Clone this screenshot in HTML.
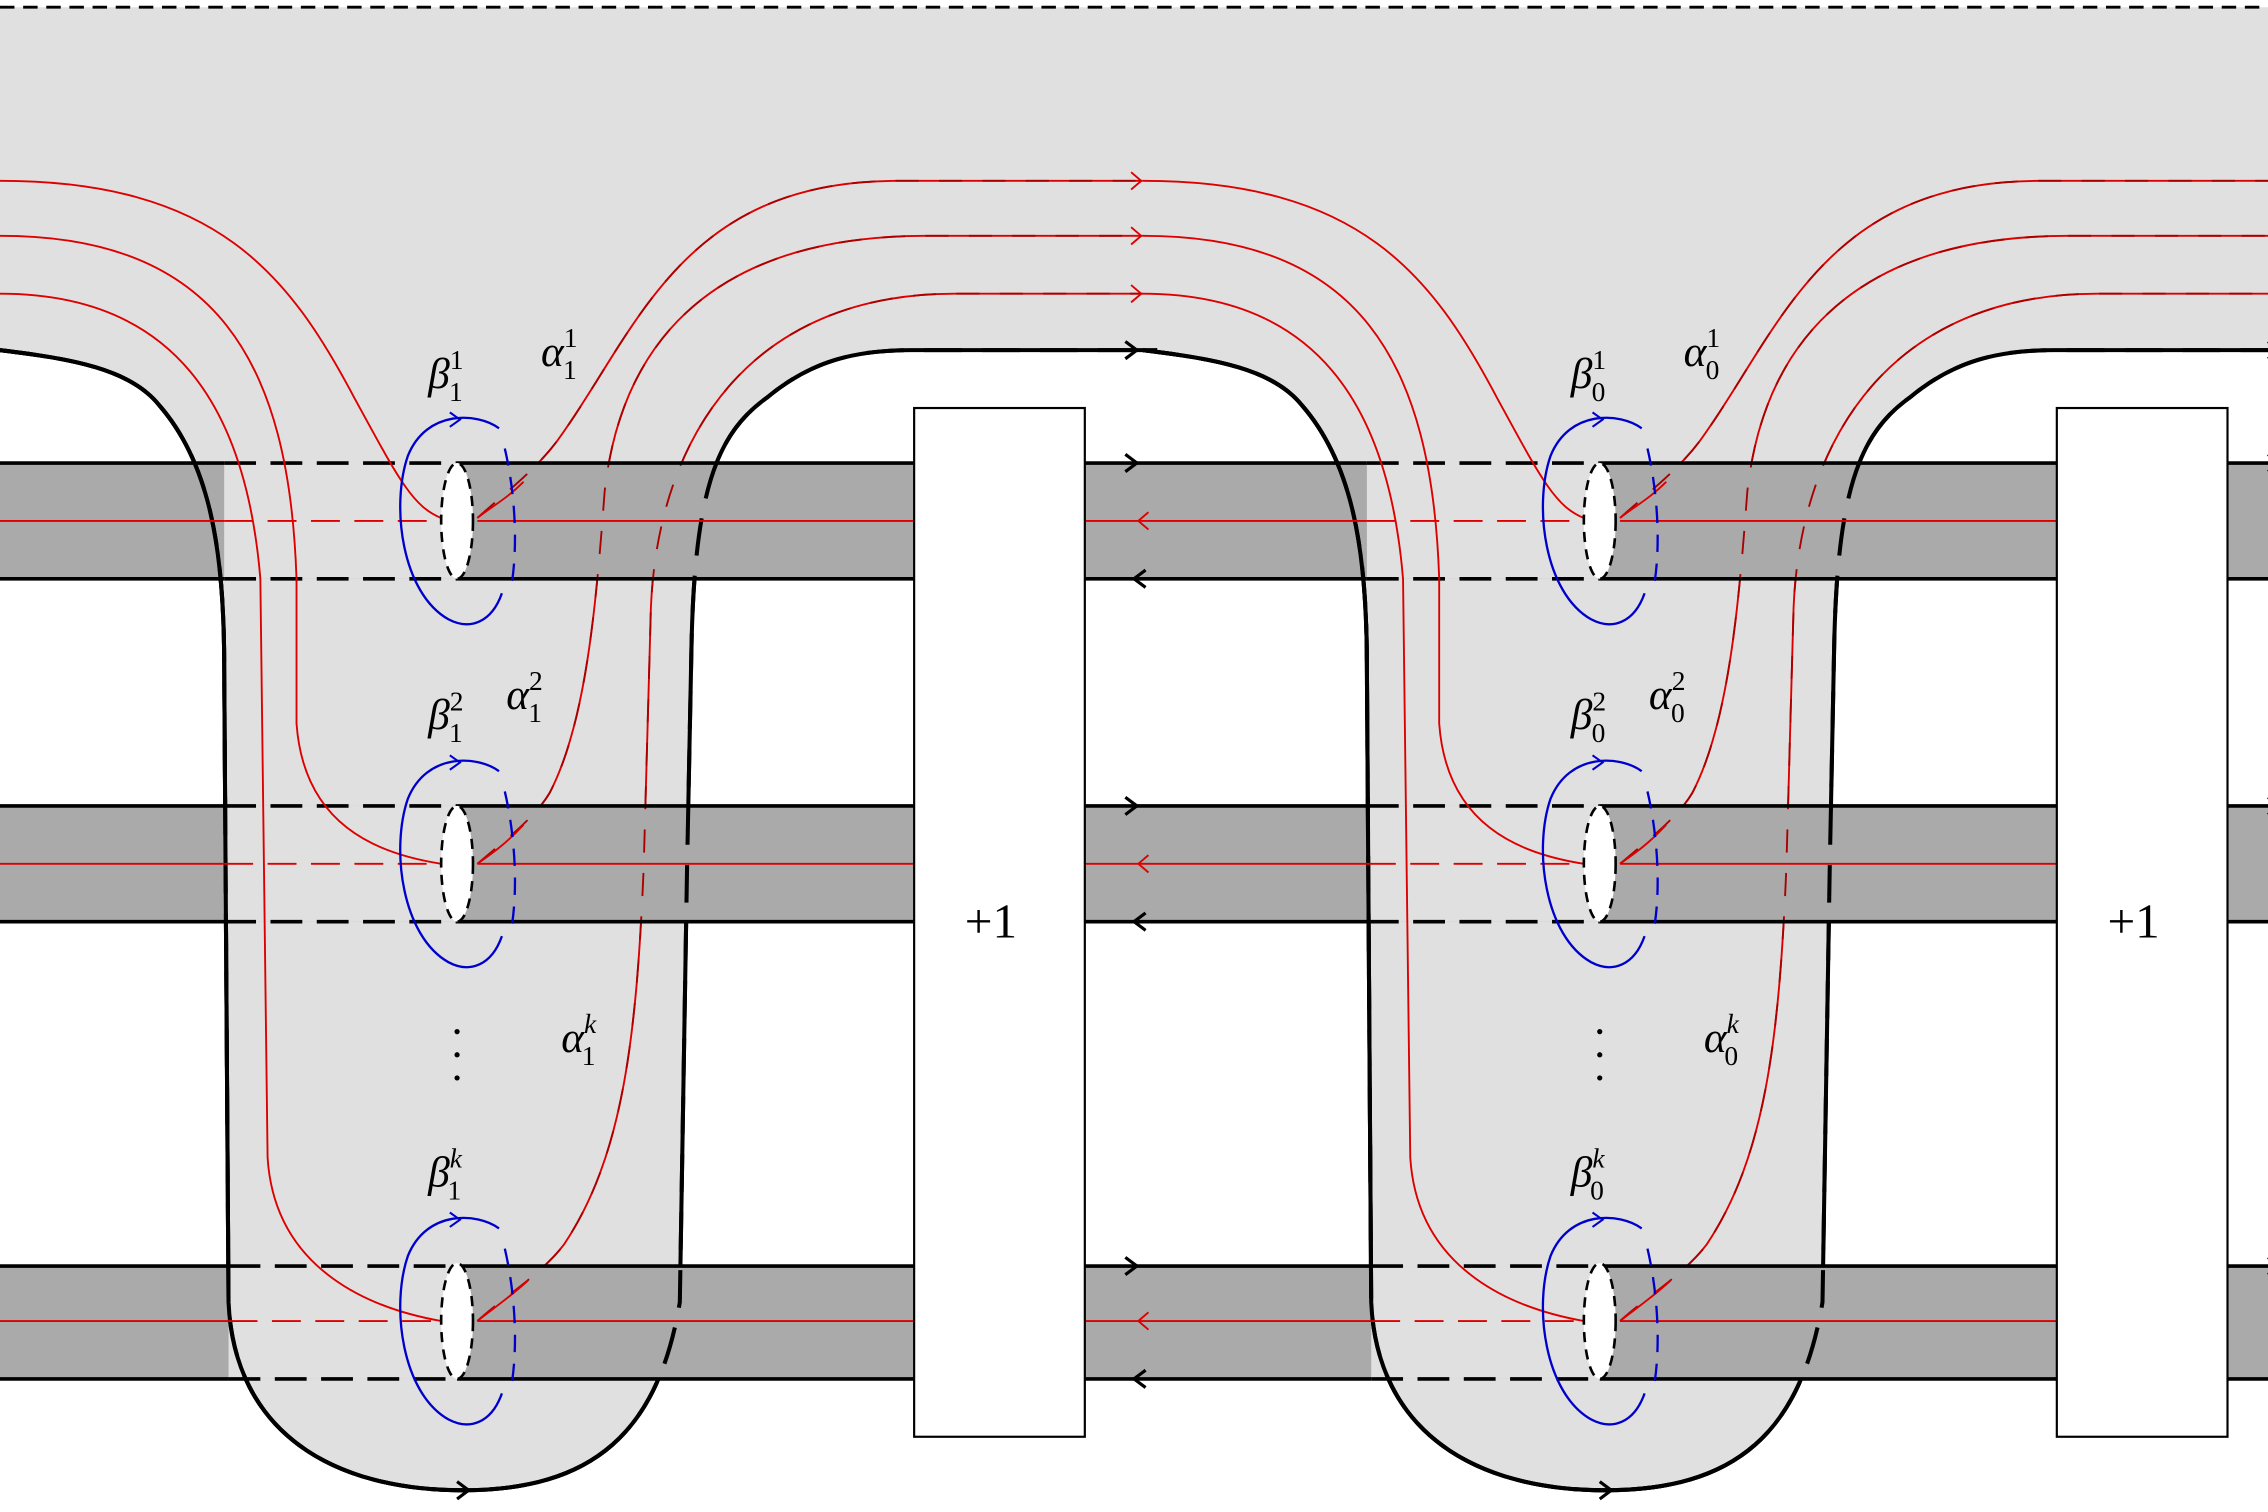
<!DOCTYPE html>
<html><head><meta charset="utf-8"><style>
html,body{margin:0;padding:0;background:#fff;}
svg{display:block;}
text{font-family:"Liberation Serif",serif;font-style:italic;}
</style></head><body>
<svg width="2268" height="1512" viewBox="0 0 1568 1045" preserveAspectRatio="none" xmlns="http://www.w3.org/2000/svg">
<defs>
<path id="fill" d="M0,5 L800,5 L800,242 H630 C590,242 560,250 530,275 C495,300 480,340 478,450 L475,600 L470,900 C455,990 410,1030 320,1030 C230,1030 162,990 158,900 L155,460 C155,380 145,320 110,280 C90,255 50,248 0,242 Z"/>
<path id="blk" d="M0,242 C50,248 90,255 110,280 C145,320 155,380 155,460 L158,900 C162,990 230,1030 320,1030 C410,1030 455,990 470,900 L475,600 L478,450 C480,340 495,300 530,275 C560,250 590,242 630,242 H800"/>
<path id="blkL" d="M0,242 C50,248 90,255 110,280 C145,320 155,380 155,460 L158,900 C162,990 230,1030 320,1030 C365,1030 398.75,1020 423.1,998.75"/>
<g id="alpha">
<path d="M330,358 C350,340 370,325 385,305 C440,230 470,125 620,125 H790"/>
<path d="M330,597 C350,580 370,565 380,548 C405,500 412,420 418,340 C430,230 500,163 640,163 H790"/>
<path d="M330,913 C350,895 375,880 390,860 C430,800 440,720 445,600 L450,420 C455,300 520,203 660,203 H790"/>
</g>
<g id="over">
<rect x="155" y="320" width="161" height="80" fill="#e0e0e0"/>
<rect x="155" y="557" width="161" height="80" fill="#e0e0e0"/>
<rect x="158" y="875" width="158" height="78" fill="#e0e0e0"/>
</g>
<g id="top">
<g stroke="#000" stroke-width="2.5" fill="none">
<path d="M-40,320 H155 M316,320 H632 M-40,400 H155 M316,400 H632 M-40,557 H155 M316,557 H632 M-40,637 H155 M316,637 H632 M-40,875 H158 M316,875 H632 M-40,953 H158 M316,953 H632"/>
<path stroke-dasharray="22,10" d="M155,320 H316 M155,400 H316 M155,557 H316 M155,637 H316 M158,875 H316 M158,953 H316"/>
</g>
<g stroke="#d00" stroke-width="1.3" fill="none">
<path d="M-40,360 H155 M330,360 H632 M-40,597 H155 M330,597 H632 M-40,913 H158 M330,913 H632"/>
<path stroke-dasharray="20,10" d="M155,360 H305 M155,597 H305 M158,913 H305"/>
<path d="M0,125 C150,125 200,190 245,275 C275,330 285,350 305,358"/>
<path d="M0,163 C150,163 200,250 205,400 L205,500 C210,570 260,590 305,597"/>
<path d="M0,203 C120,203 170,280 180,400 L185,800 C190,880 260,905 305,913"/>
<path d="M330,358 C340,350 350,345 362,333 M330,597 C340,590 350,583 362,570 M330,913 C340,905 352,897 365,885"/>
</g>
<g id="disk">
<ellipse cx="316" cy="360" rx="11" ry="40" fill="#fff" stroke="#000" stroke-width="1.8" stroke-dasharray="7,5"/>
<path d="M345,296 C330,285 295,283 282,315 C270,350 278,410 310,428 C325,436 340,430 347,410" stroke="#00c" stroke-width="1.6" fill="none"/>
<path d="M349,310 C356,340 358,375 354,402" stroke="#00c" stroke-width="1.6" fill="none" stroke-dasharray="12,8"/>
<path d="M311,285 L318,290 L311,295" stroke="#00c" stroke-width="1.4" fill="none"/>
</g>
<use href="#disk" transform="translate(0,237)"/>
<use href="#disk" transform="translate(0,553)"/>
<g stroke="#000" stroke-width="2.2" fill="none">
<path d="M778,236 L786,242 L778,248 M778,314 L786,320 L778,326 M792,394 L784,400 L792,406 M778,551 L786,557 L778,563 M792,631 L784,637 L792,643 M778,869 L786,875 L778,881 M792,947 L784,953 L792,959 M316,1024 L324,1030 L316,1036"/>
</g>
<g stroke="#d00" stroke-width="1.3" fill="none">
<path d="M782,119 L789,125 L782,131 M782,157 L789,163 L782,169 M782,197 L789,203 L782,209 M794,354 L787,360 L794,366 M794,591 L787,597 L794,603 M794,907 L787,913 L794,919"/>
</g>
</g>
</defs>
<rect width="1568" height="1045" fill="#fff"/>
<use href="#fill" fill="#e0e0e0"/>
<use href="#fill" fill="#e0e0e0" transform="translate(790,0)"/>
<g stroke="#d00" stroke-width="1.3" fill="none">
<use href="#alpha"/><use href="#alpha" transform="translate(790,0)"/>
</g>
<g stroke="#000" stroke-width="2.8" fill="none">
<use href="#blk"/><use href="#blk" transform="translate(790,0)"/>
</g>
<g fill="#aaa">
<rect x="0" y="320" width="1568" height="80"/>
<rect x="0" y="557" width="1568" height="80"/>
<rect x="0" y="875" width="1568" height="78"/>
</g>
<use href="#over"/><use href="#over" transform="translate(790,0)"/>
<g stroke="#a00" stroke-width="1.3" fill="none" stroke-dasharray="16,14">
<use href="#alpha"/><use href="#alpha" transform="translate(790,0)"/>
</g>
<g stroke="#000" stroke-width="2.8" fill="none" stroke-dasharray="26,14">
<use href="#blk"/><use href="#blk" transform="translate(790,0)"/>
</g>
<g stroke="#000" stroke-width="2.8" fill="none">
<use href="#blkL"/><use href="#blkL" transform="translate(790,0)"/>
</g>
<use href="#top"/><use href="#top" transform="translate(790,0)"/>
<path d="M1540,320 H1568 M1540,400 H1568 M1540,557 H1568 M1540,637 H1568 M1540,875 H1568 M1540,953 H1568" stroke="#000" stroke-width="2.5"/>
<line x1="0" y1="5" x2="1568" y2="5" stroke="#000" stroke-width="2" stroke-dasharray="10,6"/>
<rect x="632" y="282" width="118" height="711" fill="#fff" stroke="#000" stroke-width="1.5"/>
<rect x="1422" y="282" width="118" height="711" fill="#fff" stroke="#000" stroke-width="1.5"/>
<text x="667" y="648" font-size="34" style="font-style:normal">+1</text>
<text x="1457" y="648" font-size="34" style="font-style:normal">+1</text>
<g font-size="30" fill="#000">
<text x="296" y="268">β<tspan font-size="19" style="font-style:normal" dy="-13">1</tspan><tspan font-size="19" style="font-style:normal" dx="-10" dy="22">1</tspan></text>
<text x="374" y="253">α<tspan font-size="19" style="font-style:normal" dy="-13">1</tspan><tspan font-size="19" style="font-style:normal" dx="-10" dy="22">1</tspan></text>
<text x="296" y="504">β<tspan font-size="19" style="font-style:normal" dy="-13">2</tspan><tspan font-size="19" style="font-style:normal" dx="-10" dy="22">1</tspan></text>
<text x="350" y="490">α<tspan font-size="19" style="font-style:normal" dy="-13">2</tspan><tspan font-size="19" style="font-style:normal" dx="-10" dy="22">1</tspan></text>
<text x="388" y="727">α<tspan font-size="19" dy="-13">k</tspan><tspan font-size="19" style="font-style:normal" dx="-10" dy="22">1</tspan></text>
<text x="296" y="820">β<tspan font-size="19" dy="-13">k</tspan><tspan font-size="19" style="font-style:normal" dx="-10" dy="22">1</tspan></text>
<text x="1086" y="268">β<tspan font-size="19" style="font-style:normal" dy="-13">1</tspan><tspan font-size="19" style="font-style:normal" dx="-10" dy="22">0</tspan></text>
<text x="1164" y="253">α<tspan font-size="19" style="font-style:normal" dy="-13">1</tspan><tspan font-size="19" style="font-style:normal" dx="-10" dy="22">0</tspan></text>
<text x="1086" y="504">β<tspan font-size="19" style="font-style:normal" dy="-13">2</tspan><tspan font-size="19" style="font-style:normal" dx="-10" dy="22">0</tspan></text>
<text x="1140" y="490">α<tspan font-size="19" style="font-style:normal" dy="-13">2</tspan><tspan font-size="19" style="font-style:normal" dx="-10" dy="22">0</tspan></text>
<text x="1178" y="727">α<tspan font-size="19" dy="-13">k</tspan><tspan font-size="19" style="font-style:normal" dx="-10" dy="22">0</tspan></text>
<text x="1086" y="820">β<tspan font-size="19" dy="-13">k</tspan><tspan font-size="19" style="font-style:normal" dx="-10" dy="22">0</tspan></text>
</g>
<g fill="#000">
<circle cx="316" cy="713" r="1.8"/><circle cx="316" cy="729" r="1.8"/><circle cx="316" cy="745" r="1.8"/>
<circle cx="1106" cy="713" r="1.8"/><circle cx="1106" cy="729" r="1.8"/><circle cx="1106" cy="745" r="1.8"/>
</g>
</svg>
</body></html>
